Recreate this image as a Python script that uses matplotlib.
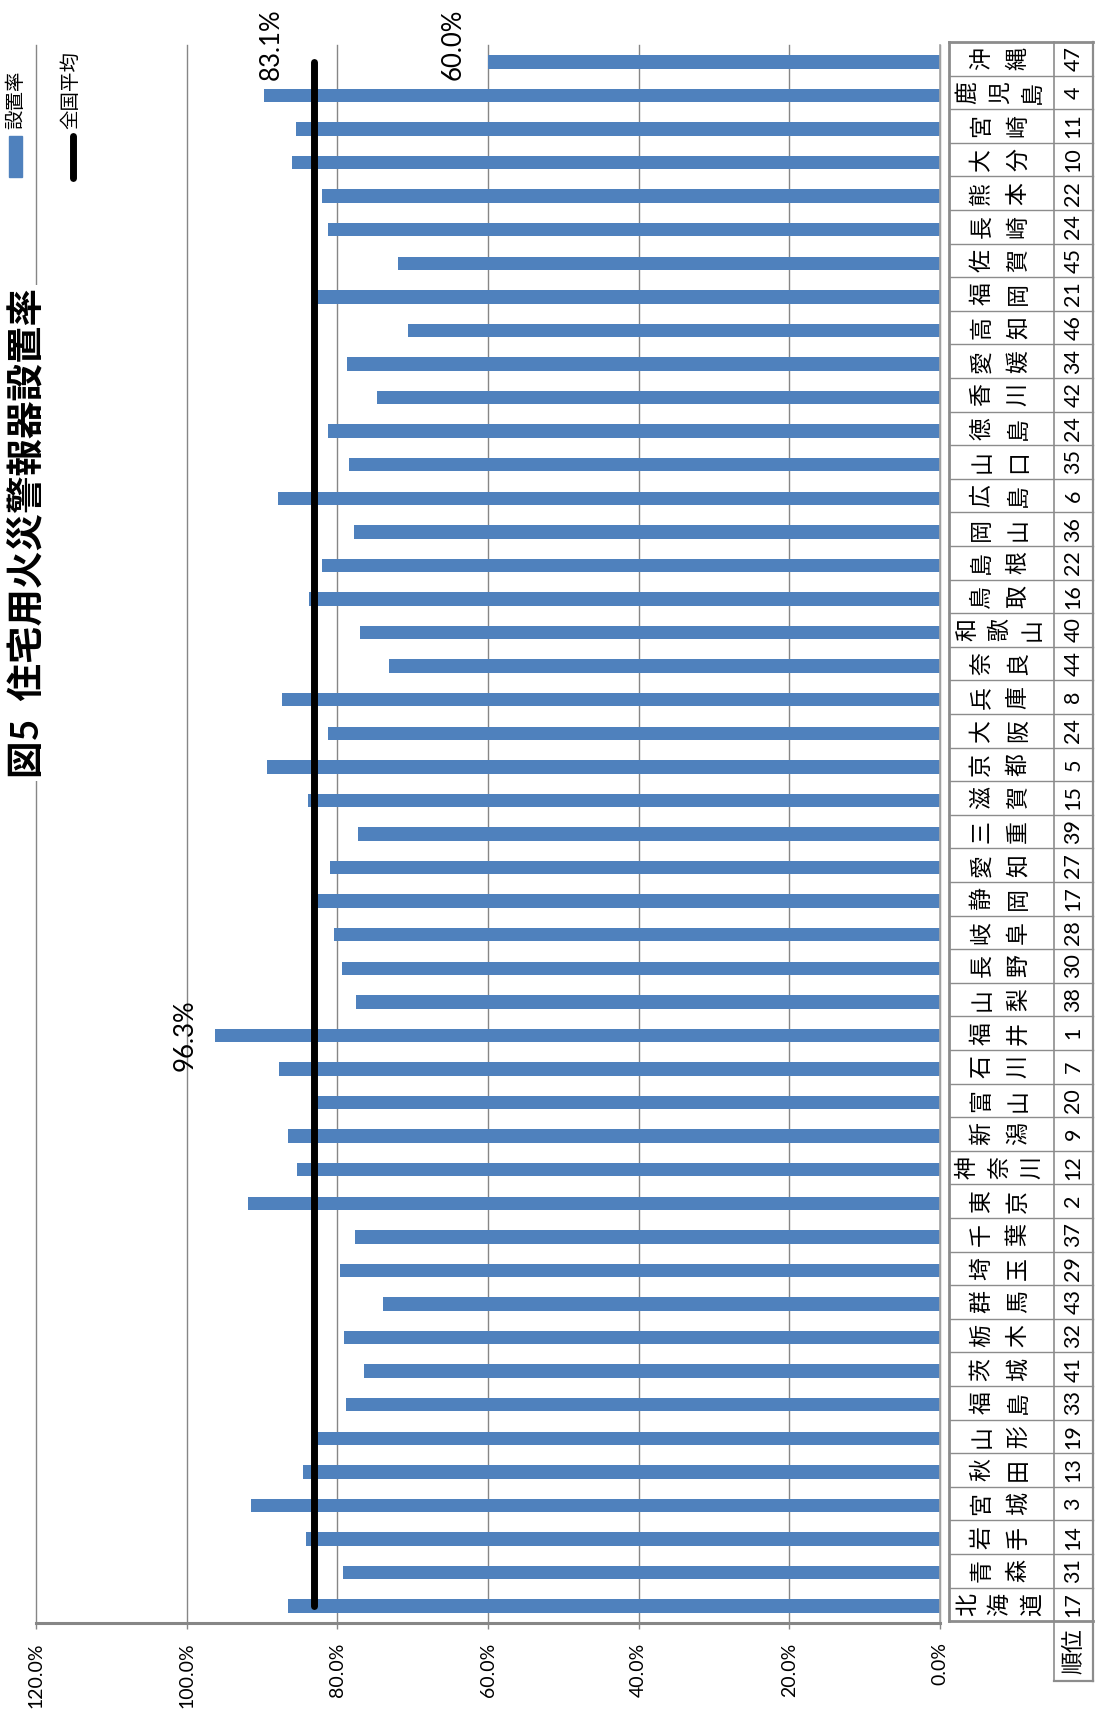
import matplotlib.pyplot as plt
from matplotlib.lines import Line2D
from matplotlib.patches import Rectangle

plt.rcParams['font.family'] = ['Lato', 'Noto Sans CJK JP', 'DejaVu Sans']

# prefectures from 北海道 (bottom) to 沖縄 (top)
prefs = ['北海道', '青森', '岩手', '宮城', '秋田', '山形', '福島', '茨城', '栃木', '群馬',
         '埼玉', '千葉', '東京', '神奈川', '新潟', '富山', '石川', '福井', '山梨', '長野',
         '岐阜', '静岡', '愛知', '三重', '滋賀', '京都', '大阪', '兵庫', '奈良', '和歌山',
         '鳥取', '島根', '岡山', '広島', '山口', '徳島', '香川', '愛媛', '高知', '福岡',
         '佐賀', '長崎', '熊本', '大分', '宮崎', '鹿児島', '沖縄']
rates = [86.6, 79.2, 84.2, 91.5, 84.5, 83.2, 78.9, 76.5, 79.1, 74.0,
         79.6, 77.6, 91.9, 85.4, 86.6, 83.0, 87.7, 96.3, 77.5, 79.4,
         80.4, 83.5, 81.0, 77.3, 83.9, 89.4, 81.2, 87.4, 73.2, 77.0,
         83.8, 82.1, 77.8, 87.9, 78.4, 81.2, 74.7, 78.7, 70.6, 82.8,
         72.0, 81.2, 82.1, 86.0, 85.5, 89.8, 60.0]
ranks = [17, 31, 14, 3, 13, 19, 33, 41, 32, 43,
         29, 37, 2, 12, 9, 20, 7, 1, 38, 30,
         28, 17, 27, 39, 15, 5, 24, 8, 44, 40,
         16, 22, 36, 6, 35, 24, 42, 34, 46, 21,
         45, 24, 22, 10, 11, 4, 47]
national_avg = 83.1
x_ticks = [0, 20, 40, 60, 80, 100, 120]

W, H = 1097, 1711
fig = plt.figure(figsize=(W / 100, H / 100), dpi=100)


def px_axes(x0, y0, x1, y1):
    return fig.add_axes([x0 / W, 1 - y1 / H, (x1 - x0) / W, (y1 - y0) / H])


blue = '#4F81BD'
grey = '#868686'
n = len(prefs)
pos = list(range(n))

# main chart (rotated layout: value axis runs right to left)
ax = px_axes(36, 45, 940, 1623)
ax.barh(pos, rates, height=0.4, color=blue, zorder=2)
ax.plot([national_avg] * n, pos, color='black', lw=5, solid_capstyle='round', zorder=3)
ax.set_xlim(120, 0)
ax.set_ylim(-0.5, n - 0.5)
ax.set_xticks(x_ticks)
ax.set_xticklabels([f'{v:.1f}%' for v in x_ticks], rotation=90, fontsize=14)
ax.tick_params(axis='x', length=4, width=1, color=grey, pad=10)
ax.set_yticks([])
ax.grid(axis='x', color=grey, lw=1)
ax.set_axisbelow(True)
for gl in ax.xaxis.get_gridlines():
    gl.set_clip_on(False)
for s in ['top', 'left']:
    ax.spines[s].set_visible(False)
ax.spines['bottom'].set_color(grey)
ax.spines['bottom'].set_linewidth(2.2)
ax.spines['right'].set_color('#a6a6a6')
ax.spines['right'].set_linewidth(1.2)

# data labels: max, min and national average
i_max = rates.index(max(rates))
i_min = rates.index(min(rates))
lab = dict(rotation=90, ha='right', va='center', fontsize=18.5, textcoords='offset points')
ax.annotate(f'{rates[i_max]:.1f}%', xy=(rates[i_max], i_max), xytext=(-12, 0), **lab)
ax.annotate(f'{rates[i_min]:.1f}%', xy=(rates[i_min], i_min), xytext=(-16, 12.5), **lab)
ax.annotate(f'{national_avg:.1f}%', xy=(national_avg, n - 1), xytext=(-21.5, 12.8), **lab)

# table of names and ranks
name_w, rank_w = 105, 39
row_h = 33.6
tab = px_axes(949, 42, 949 + name_w + rank_w, 1681)
tab_bottom = n - 0.5 - (1681 - 42) / row_h
tab.set_xlim(0, name_w + rank_w)
tab.set_ylim(tab_bottom, n - 0.5)
tab.axis('off')
tw = name_w + rank_w
line_kw = dict(color='#8c8c8c', clip_on=False, solid_capstyle='projecting')
for k in range(n - 1):
    tab.plot([0, tw], [k + 0.5, k + 0.5], lw=1, **line_kw)
tab.plot([0, tw], [n - 0.5, n - 0.5], lw=2, **line_kw)
tab.plot([0, tw], [-0.5, -0.5], lw=2, **line_kw)
tab.plot([0, 0], [-0.5, n - 0.5], lw=2, **line_kw)
tab.plot([name_w, name_w], [tab_bottom, n - 0.5], lw=1.2, **line_kw)
tab.plot([tw, tw], [tab_bottom, n - 0.5], lw=1.6, **line_kw)
tab.plot([name_w, tw], [tab_bottom, tab_bottom], lw=1.6, **line_kw)

name_cx = 51
for k, name in enumerate(prefs):
    step = 32.5 if len(name) == 3 else 36.5
    x0 = name_cx - step * (len(name) - 1) / 2
    for j, ch in enumerate(name):
        tab.text(x0 + j * step, k, ch, rotation=90, ha='center', va='center',
                 fontsize=16.5, family=['Noto Sans CJK JP'])
    tab.text(name_w + rank_w / 2, k, str(ranks[k]), rotation=90,
             ha='center', va='center', fontsize=15.5)
tab.text(name_w + rank_w / 2, (-0.5 + tab_bottom) / 2, '順位', rotation=90,
         ha='center', va='center', fontsize=16.5, family=['Noto Sans CJK JP'])

# legend
fig.patches.append(Rectangle((9 / W, 1 - 177 / H), 13 / W, 41 / H,
                             transform=fig.transFigure, color=blue))
fig.text(16 / W, 1 - 100 / H, '設置率', rotation=90, ha='center', va='center',
         fontsize=14, family=['Noto Sans CJK JP'])
fig.add_artist(Line2D([73 / W, 73 / W], [1 - 178 / H, 1 - 136 / H], color='black',
                      lw=5, solid_capstyle='round', transform=fig.transFigure))
fig.text(71 / W, 1 - 90 / H, '全国平均', rotation=90, ha='center', va='center',
         fontsize=14, family=['Noto Sans CJK JP'])

# title
fig.text(28 / W, 1 - 533 / H, '図5  住宅用火災警報器設置率', rotation=90,
         ha='center', va='center', fontsize=27, fontweight='bold',
         bbox=dict(facecolor='white', edgecolor='none', pad=2))

fig.savefig('out.png', dpi=100)
